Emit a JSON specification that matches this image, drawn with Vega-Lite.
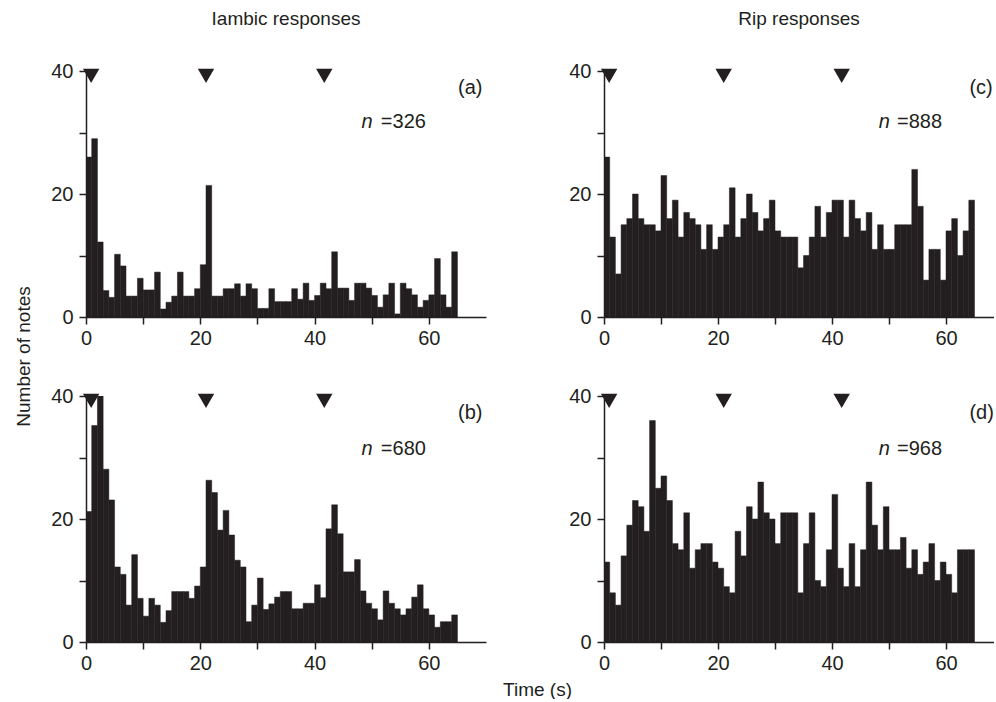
{
  "$schema": "https://vega.github.io/schema/vega-lite/v6.json",
  "background": "white",
  "padding": {"left": 14, "top": 10, "right": 0, "bottom": 0},
  "config": {
    "font": "Liberation Sans",
    "view": {"stroke": null},
    "axis": {"grid": false, "domainColor": "#231f20", "domainWidth": 1.5, "tickColor": "#231f20", "tickWidth": 1.5, "tickSize": 7, "labelFontSize": 20, "labelColor": "#231f20", "labelFont": "Liberation Sans", "titleFont": "Liberation Sans", "titleFontSize": 19, "titleFontWeight": "normal", "titleColor": "#231f20", "labelOverlap": false},
    "axisX": {"labelPadding": 4, "labelFlush": false},
    "axisY": {"labelPadding": 6},
    "title": {"fontSize": 19, "fontWeight": "normal", "font": "Liberation Sans", "color": "#231f20", "anchor": "middle", "frame": "group", "offset": 32}
  },
  "datasets": {
    "tri": [{"x": 0.9, "y": 39.2}, {"x": 21, "y": 39.2}, {"x": 41.7, "y": 39.2}],
    "a": [{"s":0,"e":1,"n":26},{"s":1,"e":2,"n":29},{"s":2,"e":3,"n":12.2},{"s":3,"e":4,"n":4.3},{"s":4,"e":5,"n":3.2},{"s":5,"e":6,"n":10.2},{"s":6,"e":7,"n":8.3},{"s":7,"e":8,"n":3.4},{"s":8,"e":9,"n":3.4},{"s":9,"e":10,"n":6.3},{"s":10,"e":11,"n":4.4},{"s":11,"e":12,"n":4.4},{"s":12,"e":13,"n":7.3},{"s":13,"e":14,"n":1.3},{"s":14,"e":15,"n":2.4},{"s":15,"e":16,"n":3.4},{"s":16,"e":17,"n":7.3},{"s":17,"e":18,"n":3.4},{"s":18,"e":19,"n":3.4},{"s":19,"e":20,"n":4.6},{"s":20,"e":21,"n":8.5},{"s":21,"e":22,"n":21.4},{"s":22,"e":23,"n":3.4},{"s":23,"e":24,"n":3.4},{"s":24,"e":25,"n":4.6},{"s":25,"e":26,"n":4.6},{"s":26,"e":27,"n":5.4},{"s":27,"e":28,"n":3.4},{"s":28,"e":29,"n":5.4},{"s":29,"e":30,"n":4.6},{"s":30,"e":31,"n":1.4},{"s":31,"e":32,"n":1.4},{"s":32,"e":33,"n":4.6},{"s":33,"e":34,"n":2.5},{"s":34,"e":35,"n":2.5},{"s":35,"e":36,"n":2.5},{"s":36,"e":37,"n":4.6},{"s":37,"e":38,"n":2.9},{"s":38,"e":39,"n":5.5},{"s":39,"e":40,"n":2.7},{"s":40,"e":41,"n":3.5},{"s":41,"e":42,"n":5.5},{"s":42,"e":43,"n":4.6},{"s":43,"e":44,"n":10.6},{"s":44,"e":45,"n":4.7},{"s":45,"e":46,"n":4.7},{"s":46,"e":47,"n":2.7},{"s":47,"e":48,"n":5.5},{"s":48,"e":49,"n":5.5},{"s":49,"e":50,"n":4.7},{"s":50,"e":51,"n":3.5},{"s":51,"e":52,"n":1.6},{"s":52,"e":53,"n":3.6},{"s":53,"e":54,"n":5.5},{"s":54,"e":55,"n":0.5},{"s":55,"e":56,"n":5.5},{"s":56,"e":57,"n":4.6},{"s":57,"e":58,"n":3.6},{"s":58,"e":59,"n":1.6},{"s":59,"e":60,"n":2.7},{"s":60,"e":61,"n":3.6},{"s":61,"e":62,"n":9.5},{"s":62,"e":63,"n":3.6},{"s":63,"e":64,"n":1.6},{"s":64,"e":65,"n":10.6}],
    "b": [{"s":0,"e":1,"n":21.2},{"s":1,"e":2,"n":35.2},{"s":2,"e":3,"n":42},{"s":3,"e":4,"n":28.1},{"s":4,"e":5,"n":23.1},{"s":5,"e":6,"n":12.2},{"s":6,"e":7,"n":11},{"s":7,"e":8,"n":6},{"s":8,"e":9,"n":14.2},{"s":9,"e":10,"n":7.1},{"s":10,"e":11,"n":4.2},{"s":11,"e":12,"n":7.1},{"s":12,"e":13,"n":6},{"s":13,"e":14,"n":3.2},{"s":14,"e":15,"n":5.1},{"s":15,"e":16,"n":8.2},{"s":16,"e":17,"n":8.2},{"s":17,"e":18,"n":8.2},{"s":18,"e":19,"n":7.1},{"s":19,"e":20,"n":9.1},{"s":20,"e":21,"n":12.2},{"s":21,"e":22,"n":26.3},{"s":22,"e":23,"n":24.3},{"s":23,"e":24,"n":18.2},{"s":24,"e":25,"n":21.4},{"s":25,"e":26,"n":17.4},{"s":26,"e":27,"n":13.3},{"s":27,"e":28,"n":12.2},{"s":28,"e":29,"n":3.3},{"s":29,"e":30,"n":6},{"s":30,"e":31,"n":10.4},{"s":31,"e":32,"n":5.3},{"s":32,"e":33,"n":6.2},{"s":33,"e":34,"n":7.3},{"s":34,"e":35,"n":8.2},{"s":35,"e":36,"n":8.2},{"s":36,"e":37,"n":5.4},{"s":37,"e":38,"n":5.4},{"s":38,"e":39,"n":6.3},{"s":39,"e":40,"n":6.3},{"s":40,"e":41,"n":9.3},{"s":41,"e":42,"n":7.2},{"s":42,"e":43,"n":18.4},{"s":43,"e":44,"n":22.3},{"s":44,"e":45,"n":17.6},{"s":45,"e":46,"n":11.4},{"s":46,"e":47,"n":11.4},{"s":47,"e":48,"n":13.4},{"s":48,"e":49,"n":8.3},{"s":49,"e":50,"n":6.3},{"s":50,"e":51,"n":5.4},{"s":51,"e":52,"n":3.6},{"s":52,"e":53,"n":8.3},{"s":53,"e":54,"n":6.3},{"s":54,"e":55,"n":5.4},{"s":55,"e":56,"n":4.4},{"s":56,"e":57,"n":5.4},{"s":57,"e":58,"n":7.3},{"s":58,"e":59,"n":9.3},{"s":59,"e":60,"n":5.4},{"s":60,"e":61,"n":4.4},{"s":61,"e":62,"n":2.4},{"s":62,"e":63,"n":3.3},{"s":63,"e":64,"n":3.3},{"s":64,"e":65,"n":4.4}],
    "c": [{"s":0,"e":1,"n":26},{"s":1,"e":2,"n":13},{"s":2,"e":3,"n":7},{"s":3,"e":4,"n":15},{"s":4,"e":5,"n":16},{"s":5,"e":6,"n":20},{"s":6,"e":7,"n":16},{"s":7,"e":8,"n":15},{"s":8,"e":9,"n":15},{"s":9,"e":10,"n":14},{"s":10,"e":11,"n":23},{"s":11,"e":12,"n":16},{"s":12,"e":13,"n":19},{"s":13,"e":14,"n":13},{"s":14,"e":15,"n":17},{"s":15,"e":16,"n":16},{"s":16,"e":17,"n":15},{"s":17,"e":18,"n":11},{"s":18,"e":19,"n":15},{"s":19,"e":20,"n":11},{"s":20,"e":21,"n":13},{"s":21,"e":22,"n":15},{"s":22,"e":23,"n":21},{"s":23,"e":24,"n":13},{"s":24,"e":25,"n":16},{"s":25,"e":26,"n":20},{"s":26,"e":27,"n":17},{"s":27,"e":28,"n":14},{"s":28,"e":29,"n":16},{"s":29,"e":30,"n":19},{"s":30,"e":31,"n":14},{"s":31,"e":32,"n":13},{"s":32,"e":33,"n":13},{"s":33,"e":34,"n":13},{"s":34,"e":35,"n":8},{"s":35,"e":36,"n":10},{"s":36,"e":37,"n":13},{"s":37,"e":38,"n":18},{"s":38,"e":39,"n":13},{"s":39,"e":40,"n":17},{"s":40,"e":41,"n":19},{"s":41,"e":42,"n":19},{"s":42,"e":43,"n":13},{"s":43,"e":44,"n":19},{"s":44,"e":45,"n":16},{"s":45,"e":46,"n":14},{"s":46,"e":47,"n":17},{"s":47,"e":48,"n":11},{"s":48,"e":49,"n":15},{"s":49,"e":50,"n":11},{"s":50,"e":51,"n":11},{"s":51,"e":52,"n":15},{"s":52,"e":53,"n":15},{"s":53,"e":54,"n":15},{"s":54,"e":55,"n":24},{"s":55,"e":56,"n":18},{"s":56,"e":57,"n":6},{"s":57,"e":58,"n":11},{"s":58,"e":59,"n":11},{"s":59,"e":60,"n":6},{"s":60,"e":61,"n":14},{"s":61,"e":62,"n":16},{"s":62,"e":63,"n":10},{"s":63,"e":64,"n":14},{"s":64,"e":65,"n":19}],
    "d": [{"s":0,"e":1,"n":13},{"s":1,"e":2,"n":8},{"s":2,"e":3,"n":6},{"s":3,"e":4,"n":14},{"s":4,"e":5,"n":19},{"s":5,"e":6,"n":23},{"s":6,"e":7,"n":22},{"s":7,"e":8,"n":18},{"s":8,"e":9,"n":36},{"s":9,"e":10,"n":25},{"s":10,"e":11,"n":27},{"s":11,"e":12,"n":23},{"s":12,"e":13,"n":16},{"s":13,"e":14,"n":15},{"s":14,"e":15,"n":21},{"s":15,"e":16,"n":12},{"s":16,"e":17,"n":15},{"s":17,"e":18,"n":16},{"s":18,"e":19,"n":16},{"s":19,"e":20,"n":13},{"s":20,"e":21,"n":12},{"s":21,"e":22,"n":9},{"s":22,"e":23,"n":8},{"s":23,"e":24,"n":18},{"s":24,"e":25,"n":14},{"s":25,"e":26,"n":22},{"s":26,"e":27,"n":20},{"s":27,"e":28,"n":26},{"s":28,"e":29,"n":21},{"s":29,"e":30,"n":20},{"s":30,"e":31,"n":16},{"s":31,"e":32,"n":21},{"s":32,"e":33,"n":21},{"s":33,"e":34,"n":21},{"s":34,"e":35,"n":8},{"s":35,"e":36,"n":16},{"s":36,"e":37,"n":21},{"s":37,"e":38,"n":10},{"s":38,"e":39,"n":9},{"s":39,"e":40,"n":15},{"s":40,"e":41,"n":24},{"s":41,"e":42,"n":12},{"s":42,"e":43,"n":9},{"s":43,"e":44,"n":16},{"s":44,"e":45,"n":9},{"s":45,"e":46,"n":15},{"s":46,"e":47,"n":26},{"s":47,"e":48,"n":19},{"s":48,"e":49,"n":15},{"s":49,"e":50,"n":22},{"s":50,"e":51,"n":15},{"s":51,"e":52,"n":15},{"s":52,"e":53,"n":17},{"s":53,"e":54,"n":12},{"s":54,"e":55,"n":15},{"s":55,"e":56,"n":11},{"s":56,"e":57,"n":13},{"s":57,"e":58,"n":16},{"s":58,"e":59,"n":10},{"s":59,"e":60,"n":13},{"s":60,"e":61,"n":11},{"s":61,"e":62,"n":8},{"s":62,"e":63,"n":15},{"s":63,"e":64,"n":15},{"s":64,"e":65,"n":15}]
  },
  "columns": 2,
  "bounds": "flush",
  "spacing": {"row": 79, "column": 118},
  "concat": [
    {
      "width": 400, "height": 246,
      "title": {"text": "Iambic responses"},
      "layer": [
        {"data": {"name": "a"}, "mark": {"type": "bar", "color": "#231f20", "stroke": "#231f20", "strokeWidth": 0.5, "clip": true},
         "encoding": {
           "x": {"field": "s", "type": "quantitative", "scale": {"domain": [0, 70], "nice": false, "zero": false}, "axis": {"values": [0,10,20,30,40,50,60], "labelExpr": "datum.value % 20 === 0 ? datum.label : ''", "title": null}},
           "x2": {"field": "e"},
           "y": {"field": "n", "type": "quantitative", "scale": {"domain": [0, 40], "nice": false}, "axis": {"values": [0,10,20,30,40], "labelExpr": "datum.value % 20 === 0 ? datum.label : ''", "title": "Number of notes", "titleX": -63, "titleY": 285, "titleBaseline": "middle", "titleAngle": -90}},
           "y2": {"datum": 0}
         }},
        {"data": {"name": "tri"}, "mark": {"type": "point", "shape": "triangle-down", "filled": true, "color": "#231f20", "opacity": 1, "size": 270},
         "encoding": {"x": {"field": "x", "type": "quantitative"}, "y": {"field": "y", "type": "quantitative"}}},
        {"data": {"values": [{"x": 65.1, "y": 37.2, "t": "(a)"}, {"x": 51.6, "y": 31.7, "t": "=326"}]}, "mark": {"type": "text", "align": "left", "baseline": "middle", "fontSize": 20, "color": "#231f20"},
         "encoding": {"x": {"field": "x", "type": "quantitative"}, "y": {"field": "y", "type": "quantitative"}, "text": {"field": "t"}}},
        {"data": {"values": [{"x": 48.2, "y": 31.7, "t": "n"}]}, "mark": {"type": "text", "align": "left", "baseline": "middle", "fontSize": 20, "fontStyle": "italic", "color": "#231f20"},
         "encoding": {"x": {"field": "x", "type": "quantitative"}, "y": {"field": "y", "type": "quantitative"}, "text": {"field": "t"}}}
      ]
    },
    {
      "width": 390, "height": 246,
      "title": {"text": "Rip responses"},
      "layer": [
        {"data": {"name": "c"}, "mark": {"type": "bar", "color": "#231f20", "stroke": "#231f20", "strokeWidth": 0.5, "clip": true},
         "encoding": {
           "x": {"field": "s", "type": "quantitative", "scale": {"domain": [0, 68.42], "nice": false, "zero": false}, "axis": {"values": [0,10,20,30,40,50,60], "labelExpr": "datum.value % 20 === 0 ? datum.label : ''", "title": null}},
           "x2": {"field": "e"},
           "y": {"field": "n", "type": "quantitative", "scale": {"domain": [0, 40], "nice": false}, "axis": {"values": [0,10,20,30,40], "labelExpr": "datum.value % 20 === 0 ? datum.label : ''", "title": null}},
           "y2": {"datum": 0}
         }},
        {"data": {"name": "tri"}, "mark": {"type": "point", "shape": "triangle-down", "filled": true, "color": "#231f20", "opacity": 1, "size": 270},
         "encoding": {"x": {"field": "x", "type": "quantitative"}, "y": {"field": "y", "type": "quantitative"}}},
        {"data": {"values": [{"x": 64.1, "y": 37.2, "t": "(c)"}, {"x": 51.4, "y": 31.7, "t": "=888"}]}, "mark": {"type": "text", "align": "left", "baseline": "middle", "fontSize": 20, "color": "#231f20"},
         "encoding": {"x": {"field": "x", "type": "quantitative"}, "y": {"field": "y", "type": "quantitative"}, "text": {"field": "t"}}},
        {"data": {"values": [{"x": 48.2, "y": 31.7, "t": "n"}]}, "mark": {"type": "text", "align": "left", "baseline": "middle", "fontSize": 20, "fontStyle": "italic", "color": "#231f20"},
         "encoding": {"x": {"field": "x", "type": "quantitative"}, "y": {"field": "y", "type": "quantitative"}, "text": {"field": "t"}}}
      ]
    },
    {
      "width": 400, "height": 246,
      "layer": [
        {"data": {"name": "b"}, "mark": {"type": "bar", "color": "#231f20", "stroke": "#231f20", "strokeWidth": 0.5, "clip": true},
         "encoding": {
           "x": {"field": "s", "type": "quantitative", "scale": {"domain": [0, 70], "nice": false, "zero": false}, "axis": {"values": [0,10,20,30,40,50,60], "labelExpr": "datum.value % 20 === 0 ? datum.label : ''", "title": "Time (s)", "titleX": 451, "titleY": 47, "titleBaseline": "middle"}},
           "x2": {"field": "e"},
           "y": {"field": "n", "type": "quantitative", "scale": {"domain": [0, 40], "nice": false}, "axis": {"values": [0,10,20,30,40], "labelExpr": "datum.value % 20 === 0 ? datum.label : ''", "title": null}},
           "y2": {"datum": 0}
         }},
        {"data": {"name": "tri"}, "mark": {"type": "point", "shape": "triangle-down", "filled": true, "color": "#231f20", "opacity": 1, "size": 270},
         "encoding": {"x": {"field": "x", "type": "quantitative"}, "y": {"field": "y", "type": "quantitative"}}},
        {"data": {"values": [{"x": 65.1, "y": 37.2, "t": "(b)"}, {"x": 51.6, "y": 31.4, "t": "=680"}]}, "mark": {"type": "text", "align": "left", "baseline": "middle", "fontSize": 20, "color": "#231f20"},
         "encoding": {"x": {"field": "x", "type": "quantitative"}, "y": {"field": "y", "type": "quantitative"}, "text": {"field": "t"}}},
        {"data": {"values": [{"x": 48.2, "y": 31.4, "t": "n"}]}, "mark": {"type": "text", "align": "left", "baseline": "middle", "fontSize": 20, "fontStyle": "italic", "color": "#231f20"},
         "encoding": {"x": {"field": "x", "type": "quantitative"}, "y": {"field": "y", "type": "quantitative"}, "text": {"field": "t"}}}
      ]
    },
    {
      "width": 390, "height": 246,
      "layer": [
        {"data": {"name": "d"}, "mark": {"type": "bar", "color": "#231f20", "stroke": "#231f20", "strokeWidth": 0.5, "clip": true},
         "encoding": {
           "x": {"field": "s", "type": "quantitative", "scale": {"domain": [0, 68.42], "nice": false, "zero": false}, "axis": {"values": [0,10,20,30,40,50,60], "labelExpr": "datum.value % 20 === 0 ? datum.label : ''", "title": null}},
           "x2": {"field": "e"},
           "y": {"field": "n", "type": "quantitative", "scale": {"domain": [0, 40], "nice": false}, "axis": {"values": [0,10,20,30,40], "labelExpr": "datum.value % 20 === 0 ? datum.label : ''", "title": null}},
           "y2": {"datum": 0}
         }},
        {"data": {"name": "tri"}, "mark": {"type": "point", "shape": "triangle-down", "filled": true, "color": "#231f20", "opacity": 1, "size": 270},
         "encoding": {"x": {"field": "x", "type": "quantitative"}, "y": {"field": "y", "type": "quantitative"}}},
        {"data": {"values": [{"x": 64.1, "y": 37.2, "t": "(d)"}, {"x": 51.4, "y": 31.4, "t": "=968"}]}, "mark": {"type": "text", "align": "left", "baseline": "middle", "fontSize": 20, "color": "#231f20"},
         "encoding": {"x": {"field": "x", "type": "quantitative"}, "y": {"field": "y", "type": "quantitative"}, "text": {"field": "t"}}},
        {"data": {"values": [{"x": 48.2, "y": 31.4, "t": "n"}]}, "mark": {"type": "text", "align": "left", "baseline": "middle", "fontSize": 20, "fontStyle": "italic", "color": "#231f20"},
         "encoding": {"x": {"field": "x", "type": "quantitative"}, "y": {"field": "y", "type": "quantitative"}, "text": {"field": "t"}}}
      ]
    }
  ]
}
